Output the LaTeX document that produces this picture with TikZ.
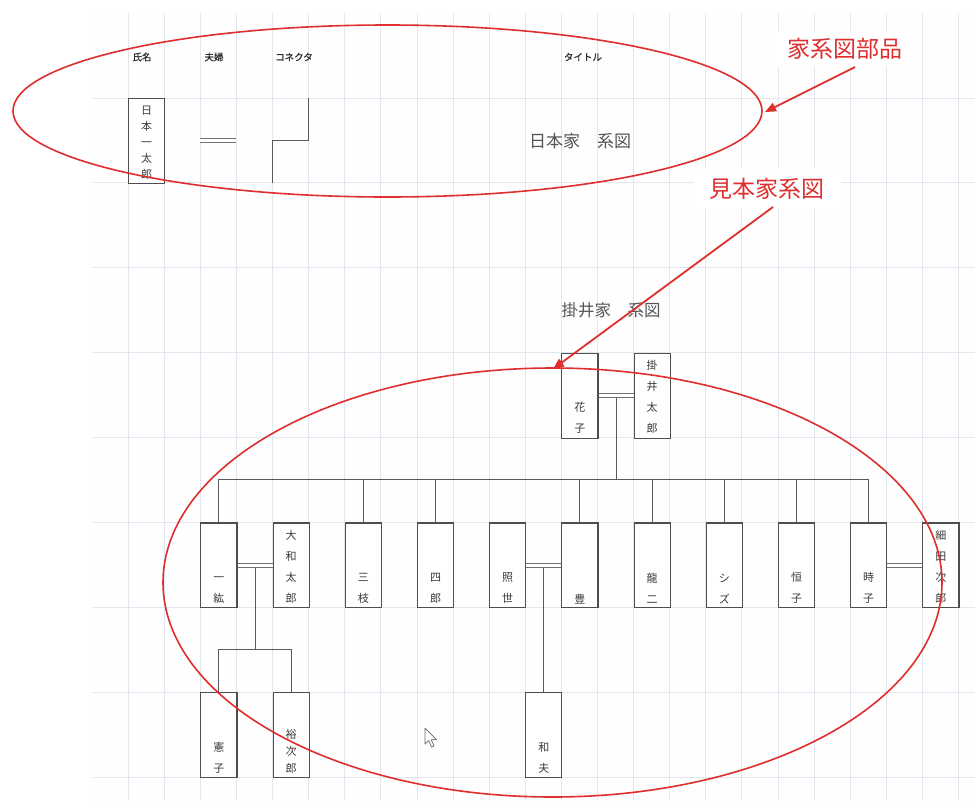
\documentclass[tikz,border=0pt]{standalone}
\usepackage{fontspec}
\newfontfamily\cjk{Noto Sans CJK JP}
\newfontfamily\cjkhead[FakeBold=1.2]{Noto Sans CJK JP}
\usetikzlibrary{arrows.meta,calc}
\definecolor{gridc}{HTML}{E2E6EF}
\definecolor{boxc}{HTML}{4E4E4E}
\definecolor{linec}{HTML}{5A5A5A}
\definecolor{textc}{HTML}{3A3A3A}
\definecolor{titlec}{HTML}{555555}
\definecolor{redc}{HTML}{DE2E2E}
\newcommand\famperson[5]{%
  \node[personbox] (#1) at ({92+36.1*#2},{13+84.9*#3}) {};
  \node[nametext, font=\cjk\fontsize{11}{#5}\selectfont] (#1-t) at ([yshift=4.5pt]#1.south) {#4};
}
\begin{document}
\begin{tikzpicture}[x=1pt,y=-1pt,
  gridline/.style={draw=gridc, line width=0.8pt},
  personbox/.style={draw=boxc, line width=1.1pt, fill=white, anchor=north west,
    minimum width=36.1pt, minimum height=84.9pt, inner sep=0pt},
  nametext/.style={anchor=south, inner sep=0pt, align=center, text=textc},
  conn/.style={draw=linec, line width=1pt},
  marriage/.style={draw=linec!85, line width=0.95pt, double=white, double distance=2.4pt},
  header/.style={font=\cjkhead\fontsize{9.5}{10}\selectfont, text=textc!80!black, inner sep=0pt},
  famtitle/.style={font=\cjk\fontsize{17}{18}\selectfont, text=titlec, inner sep=0pt},
  redline/.style={draw=redc, line width=1.6pt},
  redarrow/.style={draw=redc, line width=1.8pt, -{Triangle[length=11pt,width=9pt]}},
  redlabel/.style={font=\cjk\fontsize{23}{24}\selectfont, text=redc, fill=white}
]
\useasboundingbox (0,0) rectangle (975,801);
\fill[white] (0,0) rectangle (975,801);
\fill[white!97!gridc] (92,13) rectangle (975,801);
% grid
\foreach \k in {1,...,24} \draw[gridline] ({92+36.1*\k},13) -- ({92+36.1*\k},801);
\foreach \k in {1,...,9} \draw[gridline] (92,{13+84.9*\k}) -- (975,{13+84.9*\k});

% ---- parts section ----
\node[header] (h1) at (142,57) {氏名};
\node[header] (h2) at (214,57) {夫婦};
\node[header] (h3) at (294,57) {コネクタ};
\node[header] (h4) at (583,57) {タイトル};
\famperson{nihon}{1}{1}{日\\本\\一\\太\\郎}{16}
\coordinate (fa) at (200.3,140.5);
\coordinate (fb) at (236.4,140.5);
\draw[marriage] (fa) -- (fb);
\coordinate (ca) at (308.6,97.9);
\coordinate (cb) at (272.5,182.8);
\coordinate (cm) at (0,140.5);
\draw[conn] (ca) -- (ca |- cm) -- (cb |- cm) -- (cb);
\node[famtitle] (t1) at (580,141) {日本家　系図};

% ---- sample family tree ----
\node[famtitle, font=\cjk\fontsize{16.5}{18}\selectfont] (t2) at (611,310) {掛井家　系図};
\famperson{hanako}{13}{4}{花\\子}{21}
\famperson{kakei}{15}{4}{掛\\井\\太\\郎}{21}

\famperson{ichi}{3}{6}{一\\紘}{21}
\famperson{yamato}{5}{6}{大\\和\\太\\郎}{21}
\famperson{sanshi}{7}{6}{三\\枝}{21}
\famperson{shiro}{9}{6}{四\\郎}{21}
\famperson{teruyo}{11}{6}{照\\世}{21}
\famperson{yutaka}{13}{6}{豊}{21}
\famperson{ryuji}{15}{6}{龍\\二}{21}
\famperson{shizu}{17}{6}{シ\\ズ}{21}
\famperson{tsuneko}{19}{6}{恒\\子}{21}
\famperson{toki}{21}{6}{時\\子}{21}
\famperson{hosoda}{23}{6}{細\\田\\次\\郎}{21}

\famperson{noriko}{3}{8}{憲\\子}{21}
\famperson{yujiro}{5}{8}{裕\\次\\郎}{17}
\famperson{kazuo}{12}{8}{和\\夫}{21}

% parents -> children
\coordinate (m1) at ($(hanako.east)!0.5!(kakei.west)$);
\coordinate (busy) at (0,479);
\draw[conn] (m1) -- (m1 |- busy);
\draw[conn] (ichi.north |- busy) -- (toki.north |- busy);
\foreach \n in {ichi,sanshi,shiro,yutaka,ryuji,shizu,tsuneko,toki}
  \draw[conn] (\n.north) -- (\n.north |- busy);
\draw[marriage] (hanako.east) -- (kakei.west);

\coordinate (m2) at ($(ichi.east)!0.5!(yamato.west)$);
\coordinate (bus2) at (0,649.5);
\draw[conn] (m2) -- (m2 |- bus2);
\draw[conn] (noriko.north) -- (noriko.north |- bus2) -- (yujiro.north |- bus2) -- (yujiro.north);
\draw[marriage] (ichi.east) -- (yamato.west);

\coordinate (m3) at ($(teruyo.east)!0.5!(yutaka.west)$);
\draw[conn] (m3) -- (m3 |- kazuo.north);
\draw[marriage] (teruyo.east) -- (yutaka.west);

\draw[marriage] (toki.east) -- (hosoda.west);

% mouse pointer
\draw[draw=gray!80!black, fill=white, line width=0.7pt, line join=round]
  (425,728) -- (425,744) -- (428.8,740.5) -- (431.5,747) -- (434,746) -- (431.3,739.8) -- (436.5,739.5) -- cycle;

% ---- red annotations ----
\draw[redline] (387.5,111) ellipse [x radius=374.5pt, y radius=86pt];
\draw[redline] (552.5,582.5) ellipse [x radius=389.5pt, y radius=214.5pt];
\node[redlabel, inner xsep=12pt, inner ysep=7pt] (lab1) at (845,49) {家系図部品};
\node[redlabel, inner xsep=16pt, inner ysep=9pt] (lab2) at (767,189) {見本家系図};
\coordinate (a1s) at (855,67);
\coordinate (a1e) at (765,112);
\coordinate (a2s) at (773,207);
\coordinate (a2e) at (553,369);
\draw[redarrow] (a1s) -- (a1e);
\draw[redarrow] (a2s) -- (a2e);
\end{tikzpicture}
\end{document}
